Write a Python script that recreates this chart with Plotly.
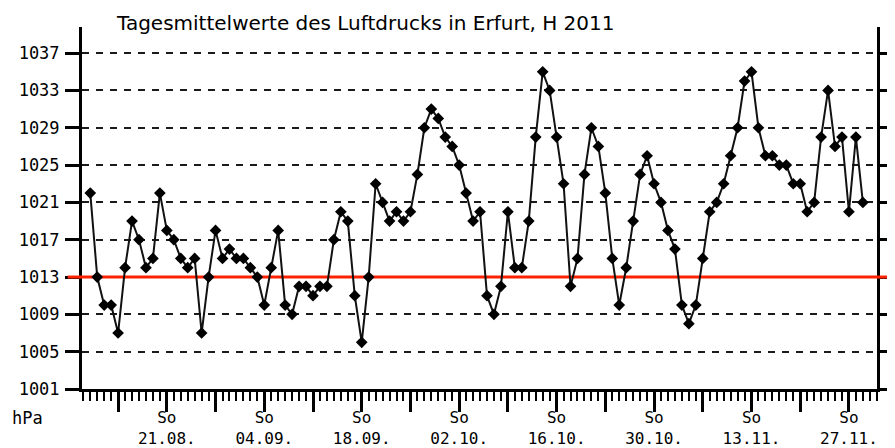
import pandas as pd
import plotly.graph_objects as go

# ---- data -------------------------------------------------------------
start_date = "2011-08-10"
pressure_hpa = [
    1022, 1013, 1010, 1010, 1007, 1014, 1019, 1017, 1014, 1015,
    1022, 1018, 1017, 1015, 1014, 1015, 1007, 1013, 1018, 1015,
    1016, 1015, 1015, 1014, 1013, 1010, 1014, 1018, 1010, 1009,
    1012, 1012, 1011, 1012, 1012, 1017, 1020, 1019, 1011, 1006,
    1013, 1023, 1021, 1019, 1020, 1019, 1020, 1024, 1029, 1031,
    1030, 1028, 1027, 1025, 1022, 1019, 1020, 1011, 1009, 1012,
    1020, 1014, 1014, 1019, 1028, 1035, 1033, 1028, 1023, 1012,
    1015, 1024, 1029, 1027, 1022, 1015, 1010, 1014, 1019, 1024,
    1026, 1023, 1021, 1018, 1016, 1010, 1008, 1010, 1015, 1020,
    1021, 1023, 1026, 1029, 1034, 1035, 1029, 1026, 1026, 1025,
    1025, 1023, 1023, 1020, 1021, 1028, 1033, 1027, 1028, 1020,
    1028, 1021,
]
days = pd.date_range(start_date, periods=len(pressure_hpa), freq="D")

sunday_ticks = [
    "2011-08-14", "2011-08-21", "2011-08-28", "2011-09-04",
    "2011-09-11", "2011-09-18", "2011-09-25", "2011-10-02",
    "2011-10-09", "2011-10-16", "2011-10-23", "2011-10-30",
    "2011-11-06", "2011-11-13", "2011-11-20", "2011-11-27",
]
sunday_labels = [
    "", "So<br>21.08.", "", "So<br>04.09.",
    "", "So<br>18.09.", "", "So<br>02.10.",
    "", "So<br>16.10.", "", "So<br>30.10.",
    "", "So<br>13.11.", "", "So<br>27.11.",
]
y_ticks = [1001, 1005, 1009, 1013, 1017, 1021, 1025, 1029, 1033, 1037]
x_range = ["2011-08-08 19:30", "2011-12-01 00:45"]
y_range = [1001, 1039.8]
normal_pressure = 1013
title_text = "Tagesmittelwerte des Luftdrucks in Erfurt, H 2011"
unit_text = "hPa"

# ---- figure -----------------------------------------------------------
# the page body has an 8px default margin; the figure is sized so that the
# plot lands at the reference's pixel position inside the 895x448 window
mono = "DejaVu Sans Mono"
red = "#ff2200"
fig = go.Figure()
fig.add_trace(go.Scatter(
    x=days, y=pressure_hpa, mode="lines+markers",
    line=dict(color="#111111", width=2),
    marker=dict(symbol="diamond", size=9, color="#000000"),
    showlegend=False, cliponaxis=False,
))

# reference line at normal pressure: inside the plot above the grid, plus
# the short stubs that reach past both axes
fig.add_shape(type="line", xref="x", yref="y",
              x0=x_range[0], x1=x_range[1], y0=normal_pressure, y1=normal_pressure,
              line=dict(color=red, width=3), layer="between")
fig.add_shape(type="line", xref="paper", yref="y",
              x0=-0.018, x1=0.0, y0=normal_pressure, y1=normal_pressure,
              line=dict(color=red, width=3), layer="above")
fig.add_shape(type="line", xref="paper", yref="y",
              x0=1.0, x1=1.014, y0=normal_pressure, y1=normal_pressure,
              line=dict(color=red, width=3), layer="above")

fig.add_annotation(
    text=title_text, xref="paper", yref="paper",
    x=0.040, y=1.0, xanchor="left", yanchor="middle", yshift=4,
    showarrow=False, font=dict(family="DejaVu Sans", size=20, color="#000"),
)
fig.add_annotation(
    text=unit_text, xref="paper", yref="paper",
    x=-0.09, y=-0.08, xanchor="left", yanchor="middle",
    showarrow=False, font=dict(family=mono, size=17, color="#000"),
)

fig.update_layout(
    width=887, height=440, autosize=False,
    margin=dict(l=74, r=18, t=19, b=59),
    paper_bgcolor="white", plot_bgcolor="white",
    xaxis=dict(
        type="date", automargin=False, range=x_range,
        tickmode="array", tickvals=sunday_ticks, ticktext=sunday_labels,
        ticks="outside", ticklen=20, tickwidth=3, tickcolor="#000",
        showline=True, linewidth=3, linecolor="#000", mirror=False,
        showgrid=False, zeroline=False, tickangle=0,
        ticklabelstandoff=-8,
        tickfont=dict(family=mono, size=16, color="#000"),
        minor=dict(ticks="outside", ticklen=9, tickwidth=2, tickcolor="#000",
                   dtick=86400000, tick0=start_date, showgrid=False),
    ),
    yaxis=dict(
        range=y_range, automargin=False,
        tickmode="array", tickvals=y_ticks,
        ticks="outside", ticklen=14, tickwidth=3, tickcolor="#000",
        showline=True, linewidth=3, linecolor="#000", mirror="ticks",
        showgrid=True, gridcolor="#1a1a1a", gridwidth=2, griddash="7px,7px",
        zeroline=False, ticklabelstandoff=2,
        tickfont=dict(family=mono, size=17, color="#000"),
    ),
)

fig.write_html("out.html")
